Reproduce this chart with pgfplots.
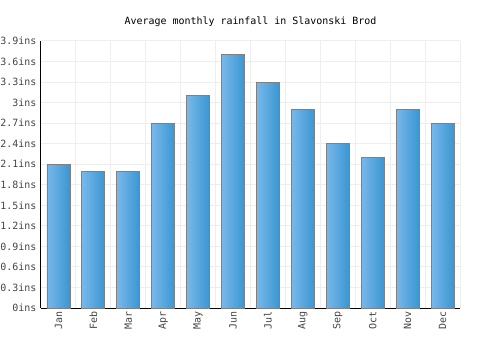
\documentclass[border=0pt]{standalone}
\usepackage{pgfplots}
\pgfplotsset{compat=1.18}
\usepackage{fontspec}
\setmainfont{DejaVu Sans Mono}
\setmonofont{DejaVu Sans Mono}
\definecolor{barL}{HTML}{78B8EB}
\definecolor{barR}{HTML}{3A96D2}
\definecolor{gridc}{HTML}{EEEEEE}
\definecolor{tickc}{HTML}{444444}
\pgfplotsset{mybar/.style={ybar, bar width=0.66, bar shift=0pt, draw=gray, line width=0.8bp, left color=barL, right color=barR, mark=none, forget plot}}
\begin{document}
\begin{tikzpicture}[x=1bp,y=1bp]
\begin{axis}[
  at={(0,0)}, anchor=south west,
  scale only axis, width=419bp, height=267bp,
  xmin=-0.5, xmax=11.5, ymin=0, ymax=3.9,
  axis x line*=bottom, axis y line*=left,
  axis line style={black, line width=1bp},
  xtick={0,...,11},
  xticklabels={Jan,Feb,Mar,Apr,May,Jun,Jul,Aug,Sep,Oct,Nov,Dec},
  x tick label style={rotate=90, anchor=east, font=\fontsize{10}{12}\selectfont\ttfamily, text=tickc},
  minor xtick={-0.5,0.5,...,11.5},
  xminorgrids=true,
  ytick={0,0.3,0.6,0.9,1.2,1.5,1.8,2.1,2.4,2.7,3,3.3,3.6,3.9},
  yticklabels={0ins,0.3ins,0.6ins,0.9ins,1.2ins,1.5ins,1.8ins,2.1ins,2.4ins,2.7ins,3ins,3.3ins,3.6ins,3.9ins},
  y tick label style={font=\fontsize{10}{12}\selectfont\ttfamily, text=tickc, xshift=-1bp},
  ymajorgrids=true,
  grid style={gridc, line width=1bp},
  minor grid style={gridc, line width=1bp},
  major tick length=0pt, minor tick length=0pt,
  tick style={draw=none},
  title={Average monthly rainfall in Slavonski Brod},
  title style={font=\fontsize{10}{12}\selectfont\ttfamily, yshift=5bp},
]
\addplot[mybar] coordinates {(0,2.1)};
\addplot[mybar] coordinates {(1,2.0)};
\addplot[mybar] coordinates {(2,2.0)};
\addplot[mybar] coordinates {(3,2.7)};
\addplot[mybar] coordinates {(4,3.1)};
\addplot[mybar] coordinates {(5,3.7)};
\addplot[mybar] coordinates {(6,3.3)};
\addplot[mybar] coordinates {(7,2.9)};
\addplot[mybar] coordinates {(8,2.4)};
\addplot[mybar] coordinates {(9,2.2)};
\addplot[mybar] coordinates {(10,2.9)};
\addplot[mybar] coordinates {(11,2.7)};
\end{axis}
\pgfresetboundingbox
\path[use as bounding box] (-41,-42) rectangle (459,308);
\end{tikzpicture}
\end{document}
